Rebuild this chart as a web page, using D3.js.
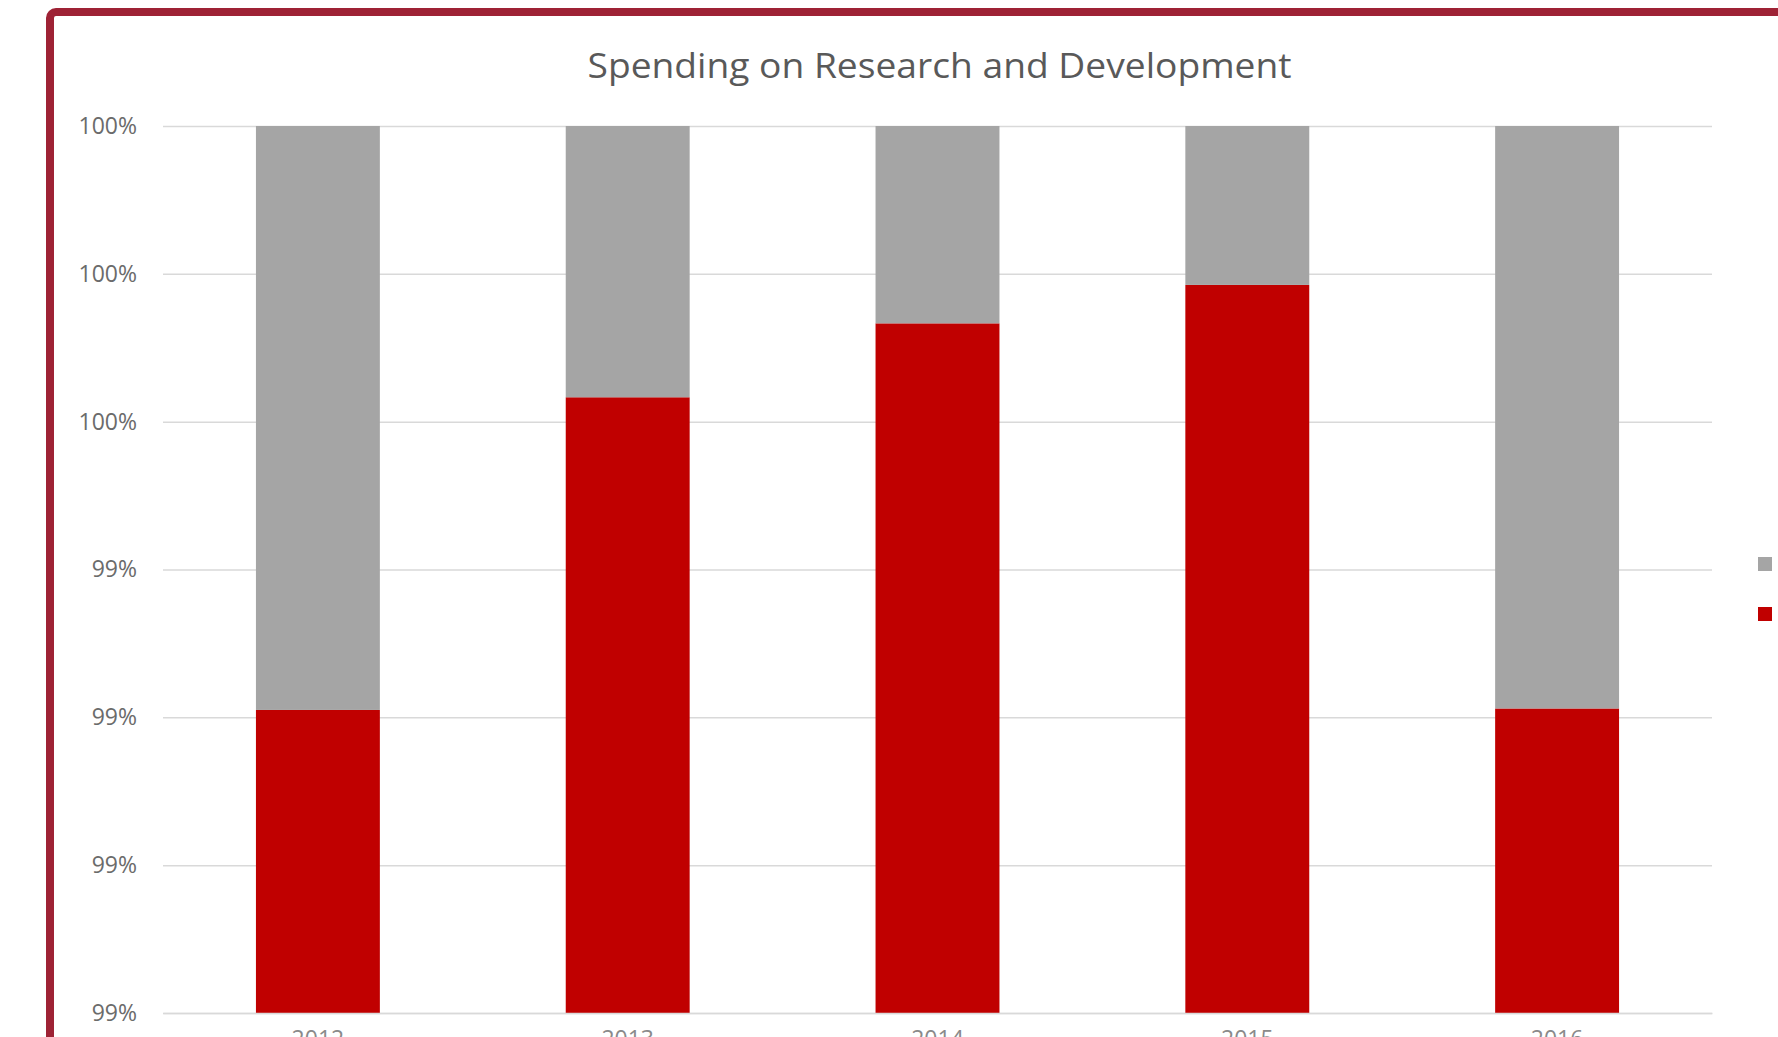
<!DOCTYPE html>
<html>
<head>
<meta charset="utf-8">
<script src="https://cdn.jsdelivr.net/npm/d3@7"></script>
<style>
  html, body { margin: 0; padding: 0; background: #fff; overflow: hidden; }
  svg { display: block; }
  text { font-family: "Open Sans", "Noto Sans", sans-serif; }
</style>
</head>
<body>
<svg id="chart" width="1778" height="1037"></svg>
<script>
// Years on the category axis
const categories = ["2012", "2013", "2014", "2015", "2016"];
// Series names (stack order: bottom first)
const seriesNames = ["Research and Development", "Other Spending"];
// Share of total spending, in percent
const rdShare = [99.21, 99.633, 99.733, 99.785, 99.212];
const otherShare = [0.79, 0.367, 0.267, 0.215, 0.788];
// Value-axis ticks
const yTicks = [98.8, 99.0, 99.2, 99.4, 99.6, 99.8, 100.0];

const colors = ["#c00000", "#a5a5a5"];

const svg = d3.select("#chart");
const plot = { left: 163, right: 1712, top: 126, bottom: 1013 };

// chart frame
svg.append("rect")
  .attr("x", 50).attr("y", 12)
  .attr("width", 1800).attr("height", 1100)
  .attr("rx", 6)
  .attr("fill", "#fff")
  .attr("stroke", "#9e2235")
  .attr("stroke-width", 8);

// title
svg.append("text")
  .attr("x", (plot.left + plot.right) / 2 + 2)
  .attr("y", 78)
  .attr("text-anchor", "middle")
  .attr("font-size", 34)
  .attr("fill", "#595959")
  .attr("textLength", 704)
  .attr("lengthAdjust", "spacingAndGlyphs")
  .text("Spending on Research and Development");

const rows = categories.map((c, i) => ({ cat: c, rd: rdShare[i], other: otherShare[i] }));
const stack = d3.stack().keys(["rd", "other"]);
const layers = stack(rows);

const x = d3.scaleBand()
  .domain(categories)
  .range([plot.left, plot.right])
  .paddingInner(0.6)
  .paddingOuter(0.3);

const y = d3.scaleLinear()
  .domain([yTicks[0], yTicks[yTicks.length - 1]])
  .range([plot.bottom, plot.top])
  .clamp(true);

// gridlines + value labels
const yAxis = svg.append("g")
  .attr("transform", `translate(${plot.left},0)`)
  .call(d3.axisLeft(y)
    .tickValues(yTicks)
    .tickSize(-(plot.right - plot.left))
    .tickPadding(26)
    .tickFormat(d => Math.round(d) + "%"));
yAxis.select(".domain").remove();
yAxis.selectAll(".tick line").attr("stroke", "#d9d9d9").attr("stroke-width", 1.5);
yAxis.selectAll(".tick text")
  .attr("font-size", 23)
  .attr("fill", "#6b6b6b");

// stacked bars
svg.append("g").selectAll("g")
  .data(layers)
  .join("g")
  .attr("fill", (d, i) => colors[i])
  .selectAll("rect")
  .data(d => d)
  .join("rect")
  .attr("x", d => x(d.data.cat))
  .attr("width", x.bandwidth())
  .attr("y", d => y(d[1]))
  .attr("height", d => y(d[0]) - y(d[1]));

// category axis
const xAxis = svg.append("g")
  .attr("transform", `translate(0,${plot.bottom})`)
  .call(d3.axisBottom(x).tickSize(0).tickPadding(18));
xAxis.select(".domain").attr("stroke", "#d9d9d9").attr("stroke-width", 1.5);
xAxis.selectAll(".tick text")
  .attr("font-size", 23)
  .attr("fill", "#8a8a8a");

// legend (top entry = top of stack)
const legend = svg.append("g");
const legendItems = seriesNames.map((n, i) => ({ name: n, color: colors[i] })).reverse();
const li = legend.selectAll("g")
  .data(legendItems)
  .join("g")
  .attr("transform", (d, i) => `translate(1758,${557 + i * 50})`);
li.append("rect")
  .attr("width", 14).attr("height", 14)
  .attr("fill", d => d.color);
li.append("text")
  .attr("x", 22).attr("y", 12)
  .attr("font-size", 23)
  .attr("fill", "#6b6b6b")
  .text(d => d.name);
</script>
</body>
</html>
